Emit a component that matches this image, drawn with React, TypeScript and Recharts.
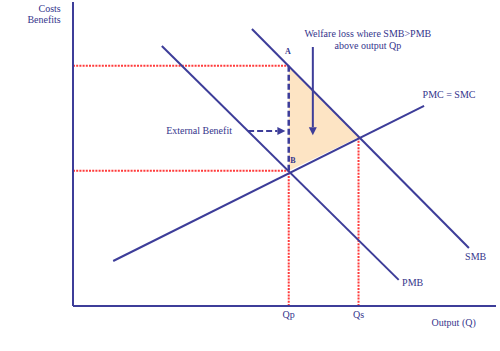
import React from "react";
import { ComposedChart, Line, Area, XAxis, YAxis, ReferenceLine, ReferenceDot } from "recharts";

// Curve end points (quantity, price)
const pmbX = [21, 77];
const pmbY = [85.5, 8.6];
const smbX = [42.3, 93.6];
const smbY = [91.1, 19.1];
const pmcX = [9.5, 83];
const pmcY = [14.8, 65.8];

// Key levels
const qLevels = [51, 67.5];
const qLabels = ["Qp", "Qs"];
const pPrivate = 44.5;
const pSocial = 55.5;
const pA = 79;

// Arrows
const extArrowX = [41.4, 50.2];
const extArrowY = 57.6;
const welfareArrowX = 56.7;
const welfareArrowY = [85.2, 56.2];

type Note = { x: number; y: number; text: string; anchor: "start" | "middle" | "end"; bold?: boolean; size?: number };
const notes: Note[] = [
  { x: 29.8, y: 57.6, text: "External Benefit", anchor: "middle" },
  { x: 69.7, y: 89.6, text: "Welfare loss where SMB>PMB", anchor: "middle" },
  { x: 69.7, y: 85.6, text: "above output Qp", anchor: "middle" },
  { x: 88.9, y: 69.7, text: "PMC = SMC", anchor: "middle" },
  { x: 92.7, y: 16.4, text: "SMB", anchor: "start" },
  { x: 77.8, y: 7.6, text: "PMB", anchor: "start" },
  { x: 50.8, y: 83.8, text: "A", anchor: "middle", bold: true, size: 8 },
  { x: 52, y: 47.8, text: "B", anchor: "middle", bold: true, size: 8 },
  { x: 90, y: -5.3, text: "Output (Q)", anchor: "middle" },
  { x: -2.9, y: 97.7, text: "Costs", anchor: "end" },
  { x: -2.9, y: 94.1, text: "Benefits", anchor: "end" },
];

const toPts = (xs: number[], ys: number[]) => xs.map((x, i) => ({ x, y: ys[i] }));
const pmbData = toPts(pmbX, pmbY);
const smbData = toPts(smbX, smbY);
const pmcData = toPts(pmcX, pmcY);
const triangle = [
  { x: qLevels[0], r: [pPrivate, pA] },
  { x: qLevels[1], r: [pSocial, pSocial] },
];

const BLUE = "#3d3d99";
const TEXT = "#35358c";
const RED = "#ff3b3b";
const FONT = "'Liberation Serif', 'DejaVu Serif', serif";

const arrowShape = (dash?: string) => (props: any) => {
  const { x1, y1, x2, y2 } = props;
  const dx = x2 - x1;
  const dy = y2 - y1;
  const len = Math.sqrt(dx * dx + dy * dy) || 1;
  const ux = dx / len;
  const uy = dy / len;
  const hl = 8;
  const hw = 4;
  const bx = x2 - ux * hl;
  const by = y2 - uy * hl;
  return (
    <g>
      <line x1={x1} y1={y1} x2={bx} y2={by} stroke={BLUE} strokeWidth={2} strokeDasharray={dash} />
      <polygon
        points={`${x2},${y2} ${bx - uy * hw},${by + ux * hw} ${bx + uy * hw},${by - ux * hw}`}
        fill={BLUE}
      />
    </g>
  );
};

const textShape = (n: Note) => (props: any) => (
  <text
    x={props.cx}
    y={props.cy}
    textAnchor={n.anchor}
    dominantBaseline="central"
    fill={TEXT}
    fontFamily={FONT}
    fontSize={n.size ?? 10}
    fontWeight={n.bold ? "bold" : "normal"}
  >
    {n.text}
  </text>
);

const DOT = "2 1.2";

export default function App() {
  return (
    <div style={{ position: "absolute", left: 0, top: 0, width: 500, height: 351, background: "#fff" }}>
      <ComposedChart width={500} height={351} margin={{ top: 2, right: 4, left: 72, bottom: 0 }}>
        <XAxis
          type="number"
          dataKey="x"
          domain={[0, 100]}
          ticks={qLevels}
          tickFormatter={(v: number) => qLabels[qLevels.indexOf(v)] ?? ""}
          tickLine={false}
          tickSize={0}
          tickMargin={5}
          axisLine={{ stroke: BLUE, strokeWidth: 2 }}
          tick={{ fill: TEXT, fontFamily: FONT, fontSize: 10 }}
          height={45}
          allowDataOverflow
        />
        <YAxis
          type="number"
          domain={[0, 100]}
          width={1}
          tick={false}
          tickLine={false}
          axisLine={{ stroke: BLUE, strokeWidth: 2 }}
          allowDataOverflow
        />
        <Area
          data={triangle}
          dataKey="r"
          type="linear"
          stroke="none"
          fill="#fde4c4"
          fillOpacity={1}
          isAnimationActive={false}
        />
        {/* red dotted guides */}
        <ReferenceLine segment={[{ x: 0, y: pA }, { x: qLevels[0], y: pA }]} stroke={RED} strokeWidth={2} strokeDasharray={DOT} />
        <ReferenceLine segment={[{ x: 0, y: pPrivate }, { x: qLevels[0], y: pPrivate }]} stroke={RED} strokeWidth={2} strokeDasharray={DOT} />
        <ReferenceLine segment={[{ x: qLevels[0], y: 0 }, { x: qLevels[0], y: pPrivate }]} stroke={RED} strokeWidth={2} strokeDasharray={DOT} />
        <ReferenceLine segment={[{ x: qLevels[1], y: 0 }, { x: qLevels[1], y: pSocial }]} stroke={RED} strokeWidth={2} strokeDasharray={DOT} />
        {/* blue dashed external benefit */}
        <ReferenceLine segment={[{ x: qLevels[0], y: pPrivate }, { x: qLevels[0], y: pA }]} stroke={BLUE} strokeWidth={2.5} strokeDasharray="6 3" />
        <Line data={pmbData} dataKey="y" type="linear" stroke={BLUE} strokeWidth={2} dot={false} isAnimationActive={false} />
        <Line data={smbData} dataKey="y" type="linear" stroke={BLUE} strokeWidth={2} dot={false} isAnimationActive={false} />
        <Line data={pmcData} dataKey="y" type="linear" stroke={BLUE} strokeWidth={2} dot={false} isAnimationActive={false} />
        <ReferenceLine
          segment={[{ x: extArrowX[0], y: extArrowY }, { x: extArrowX[1], y: extArrowY }]}
          shape={arrowShape("6 3")}
        />
        <ReferenceLine
          segment={[{ x: welfareArrowX, y: welfareArrowY[0] }, { x: welfareArrowX, y: welfareArrowY[1] }]}
          shape={arrowShape()}
        />
        {notes.map((n, i) => (
          <ReferenceDot key={i} x={n.x} y={n.y} r={0} ifOverflow="visible" shape={textShape(n)} />
        ))}
      </ComposedChart>
    </div>
  );
}
